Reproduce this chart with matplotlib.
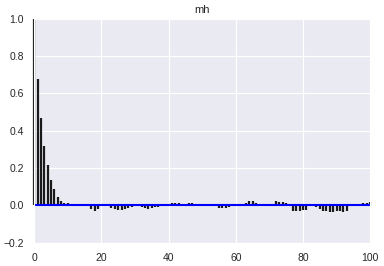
import matplotlib
matplotlib.use("Agg")
import matplotlib.pyplot as plt
import seaborn as sns

title = "mh"
lags = list(range(0, 101))
acf = [
    1.0, 0.68, 0.47, 0.32, 0.215, 0.134, 0.085, 0.047, 0.025, 0.015,
    0.01, 0.003, 0.002, 0.002, 0.001, -0.002, -0.004, -0.022, -0.03, -0.018,
    -0.003, -0.002, -0.005, -0.012, -0.022, -0.027, -0.025, -0.018, -0.017, -0.011,
    -0.003, -0.002, -0.011, -0.012, -0.02, -0.012, -0.011, -0.011, -0.004, 0.001,
    0.006, 0.015, 0.012, 0.015, 0.004, 0.002, 0.015, 0.01, 0.009, 0.004,
    0.002, 0.001, -0.002, -0.003, -0.004, -0.012, -0.012, -0.012, -0.011, -0.003,
    -0.001, 0.003, 0.009, 0.015, 0.022, 0.022, 0.012, 0.009, 0.003, 0.002,
    0.003, 0.009, 0.022, 0.017, 0.017, 0.011, 0.002, -0.03, -0.03, -0.03,
    -0.025, -0.024, -0.006, -0.006, -0.009, -0.02, -0.028, -0.032, -0.038, -0.035,
    -0.03, -0.03, -0.035, -0.028, -0.006, -0.002, 0.002, 0.006, 0.01, 0.012,
    0.017,
]

sns.set_style("darkgrid")
plt.rcParams["font.family"] = ["Liberation Sans", "DejaVu Sans"]

fig = plt.figure(figsize=(3.84, 2.66), dpi=100)
ax = fig.add_axes([0.089, 0.088, 0.875, 0.841])

# autocorrelation as vertical lines from zero
ax.vlines(lags, 0, acf, color="#1a1a1a", lw=1.6, clip_on=False)
ax.axhline(0, color="blue", lw=1.5)

ax.set_xlim(0, 100)
ax.set_ylim(-0.2, 1.0)
ax.set_xticks([0, 20, 40, 60, 80, 100])
ax.set_yticks([-0.2, 0.0, 0.2, 0.4, 0.6, 0.8, 1.0])
ax.tick_params(labelsize=7.5, colors="#262626", pad=4)
ax.set_title(title, fontsize=8, color="#262626", pad=4)

fig.savefig("out.png", dpi=100)
